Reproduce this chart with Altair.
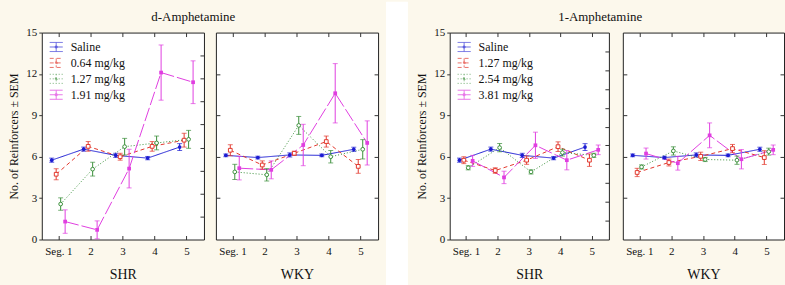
import altair as alt
import pandas as pd

SEGMENTS = [1, 2, 3, 4, 5]
SEG_LABELS = ["Seg. 1", "2", "3", "4", "5"]
STRAINS = ["SHR", "WKY"]

D_TITLE = "d-Amphetamine"
L_TITLE = "1-Amphetamine"
D_LABELS = ["Saline", "0.64 mg/kg", "1.27 mg/kg", "1.91 mg/kg"]
L_LABELS = ["Saline", "1.27 mg/kg", "2.54 mg/kg", "3.81 mg/kg"]

# Saline (shared by both drug figures)
SAL_SHR_MEAN = [5.75, 6.55, 6.1, 5.9, 6.7]
SAL_SHR_ERR = [0.15, 0.15, 0.15, 0.12, 0.25]
SAL_WKY_MEAN = [6.1, 5.94, 6.13, 6.1, 6.54]
SAL_WKY_ERR = [0.1, 0.1, 0.15, 0.1, 0.15]

# d-Amphetamine, SHR
D_SHR_064_MEAN = [4.73, 6.75, 6.0, 6.75, 7.2]
D_SHR_064_ERR = [0.4, 0.35, 0.25, 0.35, 0.5]
D_SHR_127_MEAN = [2.57, 5.1, 6.73, 7.0, 7.26]
D_SHR_127_ERR = [0.45, 0.5, 0.6, 0.5, 0.65]
D_SHR_191_MEAN = [1.3, 0.7, 5.14, 12.1, 11.4]
D_SHR_191_ERR = [0.85, 0.65, 1.4, 2.0, 1.55]

# d-Amphetamine, WKY
D_WKY_064_MEAN = [6.47, 5.4, 6.25, 7.1, 5.3]
D_WKY_064_ERR = [0.4, 0.3, 0.15, 0.4, 0.5]
D_WKY_127_MEAN = [4.9, 4.69, 8.27, 6.0, 6.54]
D_WKY_127_ERR = [0.55, 0.45, 0.65, 0.45, 0.7]
D_WKY_191_MEAN = [5.17, 5.05, 6.85, 10.6, 7.0]
D_WKY_191_ERR = [0.85, 0.65, 1.5, 2.15, 1.6]

# 1-Amphetamine, SHR
L_SHR_127_MEAN = [5.75, 5.0, 5.75, 6.73, 5.75]
L_SHR_127_ERR = [0.25, 0.2, 0.3, 0.35, 0.45]
L_SHR_254_MEAN = [5.2, 6.66, 4.9, 6.3, 6.1]
L_SHR_254_ERR = [0.15, 0.3, 0.15, 0.25, 0.15]
L_SHR_381_MEAN = [5.7, 4.5, 6.83, 5.75, 6.5]
L_SHR_381_ERR = [0.4, 0.45, 0.95, 0.7, 0.35]

# 1-Amphetamine, WKY
L_WKY_127_MEAN = [4.86, 5.58, 6.03, 6.59, 5.94]
L_WKY_127_ERR = [0.3, 0.25, 0.3, 0.3, 0.5]
L_WKY_254_MEAN = [5.26, 6.42, 5.8, 5.75, 6.37]
L_WKY_254_ERR = [0.15, 0.3, 0.15, 0.3, 0.25]
L_WKY_381_MEAN = [6.23, 5.53, 7.55, 5.82, 6.5]
L_WKY_381_ERR = [0.4, 0.5, 0.9, 0.7, 0.35]

# ---- styling ----
FONT = "Liberation Serif"
COLORS = ["#1c1cd2", "#e2372c", "#3a8f3a", "#e03ee0"]
FILLED = [True, False, False, True]
SHAPES = ["circle", "square", "circle", "square"]
DASHES = [[1, 0], [4, 3], [1, 2], [14, 3]]
DODGE = [-0.21, -0.07, 0.07, 0.21]
BG = "#fcf8ec"
TICK_COLOR = "#333333"
TEXT_COLOR = "#111111"
PLOT_H = 208
LEGEND_SYMBOL = ("M-1,-0.7H1M-1,0H1M-1,0.7H1M0,-0.7V0.7"
                 "M-0.14,-0.14H0.14V0.14H-0.14Z")


def make_df(labels, series_means, series_errs):
    rows = []
    for k, lab in enumerate(labels):
        for s_i, seg in enumerate(SEGMENTS):
            m = series_means[k][s_i]
            e = series_errs[k][s_i]
            rows.append({"series": lab, "order": k, "seg": seg,
                         "xpos": seg + DODGE[k], "mean": m,
                         "lo": max(m - e, 0), "hi": m + e})
    return pd.DataFrame(rows)


def panel(df, labels, strain, first, right_vals, width, height):
    base = alt.Chart(df)
    xs = alt.Scale(domain=[0.48, 5.55], nice=False, zero=False)
    ys = alt.Scale(domain=[0, 15], nice=False)
    label_expr = "[" + ",".join("'%s'" % s for s in SEG_LABELS) + "][datum.value-1]"
    x_main = alt.X("xpos:Q", scale=xs, title=strain,
                   axis=alt.Axis(values=SEGMENTS, labelExpr=label_expr,
                                 offset=-4, tickSize=4, labelPadding=6,
                                 domain=False, grid=False, titlePadding=11,
                                 titleFontWeight="normal", titleFontSize=14,
                                 tickColor=TICK_COLOR))
    if first:
        y_main = alt.Y("mean:Q", scale=ys, title="No. of Reinforcers ± SEM",
                       axis=alt.Axis(values=[0, 3, 6, 9, 12, 15], tickSize=3,
                                     labelPadding=2, domain=False, grid=False,
                                     titlePadding=5, titleFontWeight="normal",
                                     titleFontSize=12, tickColor=TICK_COLOR))
        legend = alt.Legend(title=None, orient="top-left", symbolType=LEGEND_SYMBOL,
                            symbolSize=170, symbolStrokeWidth=1, labelFont=FONT,
                            labelFontSize=12, labelColor=TEXT_COLOR, offset=7,
                            rowPadding=1, padding=0, labelOffset=7)
    else:
        y_main = alt.Y("mean:Q", scale=ys, title=None,
                       axis=alt.Axis(values=[3, 6, 9, 12], labels=False, tickSize=4,
                                     offset=-4, domain=False, grid=False,
                                     tickColor=TICK_COLOR))
        legend = None
    color = alt.Color("series:N", scale=alt.Scale(domain=labels, range=COLORS),
                      legend=legend)
    dash = alt.StrokeDash("series:N", scale=alt.Scale(domain=labels, range=DASHES),
                          legend=None)
    x_plain = alt.X("xpos:Q", scale=xs, axis=None)

    lines = base.mark_line(strokeWidth=1).encode(
        x=x_main, y=y_main, color=color, strokeDash=dash, order="seg:Q")
    bars = base.mark_rule(strokeWidth=1).encode(
        x=x_plain, y=alt.Y("lo:Q", scale=ys, axis=None), y2="hi:Q",
        color=color)
    cap_hi = base.mark_tick(orient="horizontal", size=5, thickness=1).encode(
        x=x_plain, y=alt.Y("hi:Q", scale=ys, axis=None), color=color)
    cap_lo = base.mark_tick(orient="horizontal", size=5, thickness=1).encode(
        x=x_plain, y=alt.Y("lo:Q", scale=ys, axis=None), color=color)
    pts = []
    for k, lab in enumerate(labels):
        if FILLED[k]:
            mk = base.mark_point(shape=SHAPES[k], filled=True, size=14, opacity=1)
        else:
            mk = base.mark_point(shape=SHAPES[k], filled=False, fill="white",
                                 size=14, strokeWidth=1, opacity=1)
        pts.append(mk.transform_filter(alt.datum.series == lab).encode(
            x=x_plain, y=alt.Y("mean:Q", scale=ys, axis=None), color=color))
    frame_ticks = base.mark_point(opacity=0).encode(
        x=alt.X("xpos:Q", scale=xs, title=None,
                axis=alt.Axis(orient="top", values=SEGMENTS, labels=False,
                              tickSize=4, offset=-4, domain=False, grid=False,
                              tickColor=TICK_COLOR)),
        y=alt.Y("mean:Q", scale=ys, title=None,
                axis=alt.Axis(orient="right", values=right_vals, labels=False,
                              tickSize=4, offset=-4, domain=False, grid=False,
                              tickColor=TICK_COLOR)))
    layers = [lines, bars, cap_hi, cap_lo, *pts, frame_ticks]
    ch = alt.layer(*layers).resolve_axis(x="independent", y="independent")
    return ch.properties(width=width, height=height)


def figure(title, labels, shr_means, shr_errs, wky_means, wky_errs, shr_right,
           widths, gap):
    shr = panel(make_df(labels, shr_means, shr_errs), labels, "SHR", True,
                shr_right, widths[0], PLOT_H)
    wky = panel(make_df(labels, wky_means, wky_errs), labels, "WKY", False,
                [3, 6, 9, 12], widths[1], PLOT_H)
    return alt.hconcat(shr, wky, spacing=gap).resolve_scale(
        color="independent", strokeDash="independent").resolve_legend(
        color="independent").properties(
        title=alt.TitleParams(title, font=FONT, fontSize=13, fontWeight="normal",
                              anchor="middle", color=TEXT_COLOR, offset=2))


fig_d = figure(
    D_TITLE, D_LABELS,
    [SAL_SHR_MEAN, D_SHR_064_MEAN, D_SHR_127_MEAN, D_SHR_191_MEAN],
    [SAL_SHR_ERR, D_SHR_064_ERR, D_SHR_127_ERR, D_SHR_191_ERR],
    [SAL_WKY_MEAN, D_WKY_064_MEAN, D_WKY_127_MEAN, D_WKY_191_MEAN],
    [SAL_WKY_ERR, D_WKY_064_ERR, D_WKY_127_ERR, D_WKY_191_ERR],
    [15 * k / 9 for k in range(1, 9)], (163, 163), 10)

fig_l = figure(
    L_TITLE, L_LABELS,
    [SAL_SHR_MEAN, L_SHR_127_MEAN, L_SHR_254_MEAN, L_SHR_381_MEAN],
    [SAL_SHR_ERR, L_SHR_127_ERR, L_SHR_254_ERR, L_SHR_381_ERR],
    [SAL_WKY_MEAN, L_WKY_127_MEAN, L_WKY_254_MEAN, L_WKY_381_MEAN],
    [SAL_WKY_ERR, L_WKY_127_ERR, L_WKY_254_ERR, L_WKY_381_ERR],
    [15 * k / 11 for k in range(1, 11)], (160, 162), 12)

# white strip separating the two figure boxes (page decoration, not data)
separator = alt.Chart(pd.DataFrame({"k": [0]})).mark_rect(color="white").encode(
    x=alt.value(0), x2=alt.value(22), y=alt.value(-31), y2=alt.value(PLOT_H + 46)
).properties(width=22, height=PLOT_H,
             view=alt.ViewBackground(stroke="transparent", fill="transparent"))

chart = alt.hconcat(fig_d, separator, fig_l, spacing=6).properties(
    background=BG,
    padding={"left": 7, "top": 0, "right": 0, "bottom": 0},
).configure_view(
    stroke="#222222", strokeWidth=1, fill="white"
).configure_axis(
    labelFont=FONT, titleFont=FONT, labelFontSize=11, titleFontSize=13,
    titleFontWeight="normal", labelColor=TEXT_COLOR, titleColor=TEXT_COLOR
)

chart.save("out.html", embed_options={"renderer": "svg", "actions": False})
